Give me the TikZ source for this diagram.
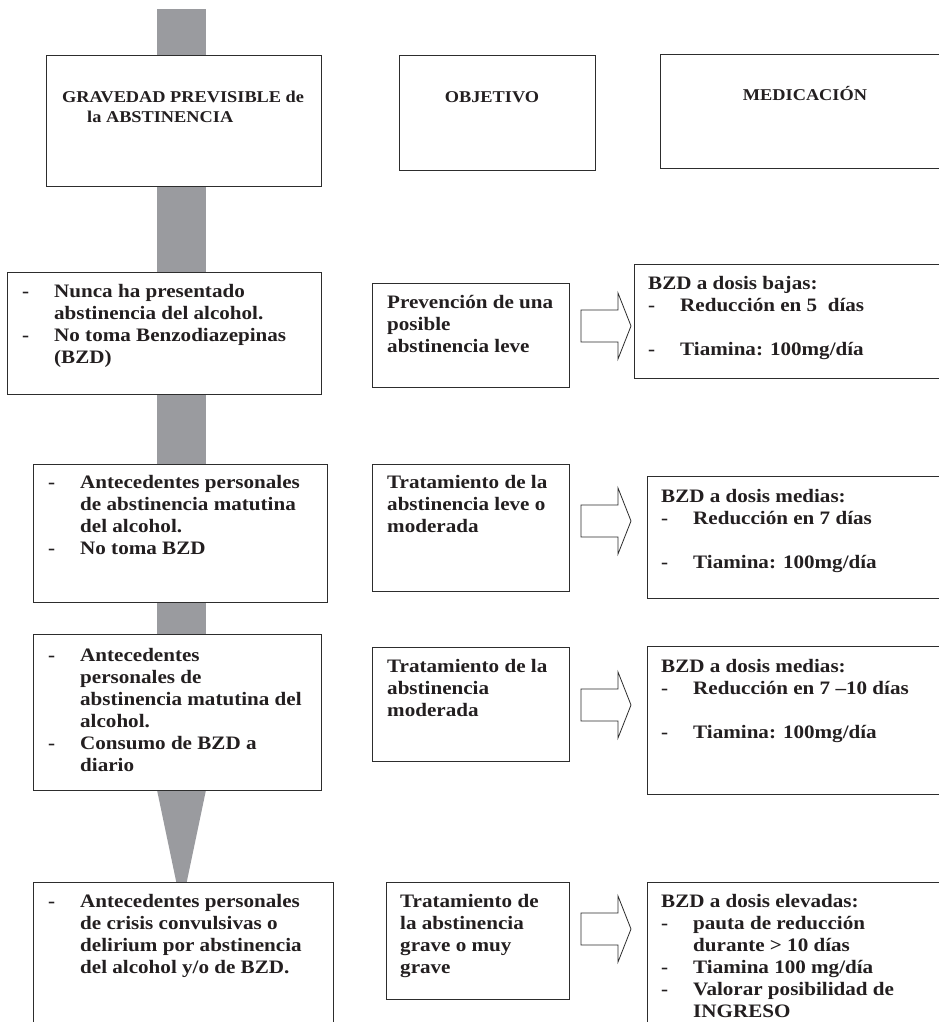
\documentclass[tikz,border=0pt]{standalone}
\usepackage{fontspec}
\setmainfont[FakeStretch=1.11]{Liberation Serif}

\definecolor{barra}{RGB}{154,155,159}
\definecolor{borde}{RGB}{45,45,45}
\definecolor{letra}{RGB}{35,31,32}

\newcommand{\guion}{\makebox[32pt][l]{-}}
\newcommand{\sangria}{\hspace*{32pt}}

\begin{document}
\begin{tikzpicture}[x=1pt, y=-1pt,
    caja/.style={draw=borde, fill=white, line width=0.8pt, anchor=north west, inner sep=0pt},
    texto/.style={anchor=base west, inner sep=0pt, text=letra, font=\fontsize{19}{22}\selectfont\bfseries},
    titulo/.style={inner sep=0pt, text=letra, font=\fontsize{16.5}{19.5}\selectfont\bfseries},
    flecha/.pic={\draw[draw=borde, fill=white, line width=0.8pt] (0,-16) -- (37,-16) -- (37,-33) -- (50,0) -- (37,33) -- (37,16) -- (0,16) -- cycle;}
]
\fill[white] (0,0) rectangle (939,1022);
\useasboundingbox (0,0) rectangle (939,1022);
\clip (0,0) rectangle (939,1022);

% barra de gravedad
\fill[barra] (157,9) rectangle (206,790);
\fill[barra] (157,790) -- (206,790) -- (181.5,907) -- cycle;

% cabecera
\node[caja, minimum width=275pt, minimum height=131pt] (gravedad) at (46,55) {};
\node[titulo, anchor=base west] (gravedadt) at (62,103) {\begin{tabular}[t]{@{}l@{}}GRAVEDAD PREVISIBLE de\\ \hspace*{25pt}la ABSTINENCIA\end{tabular}};
\node[caja, minimum width=196pt, minimum height=115pt] (objetivo) at (399,55) {};
\node[titulo, anchor=base] (objetivot) at (492,103) {OBJETIVO};
\node[caja, minimum width=300pt, minimum height=114pt] (medicacion) at (660,54) {};
\node[titulo, anchor=base] (medicaciont) at (805,101) {MEDICACIÓN};

% nivel 1
\node[caja, minimum width=314pt, minimum height=122pt] (caso1) at (7,272) {};
\node[texto] (caso1t) at (22,297) {\begin{tabular}[t]{@{}l@{}}\guion Nunca ha presentado\\ \sangria abstinencia del alcohol.\\ \guion No toma Benzodiazepinas\\ \sangria (BZD)\end{tabular}};
\node[caja, minimum width=197pt, minimum height=104pt] (obj1) at (372,283) {};
\node[texto] (obj1t) at (387,308) {\begin{tabular}[t]{@{}l@{}}Prevención de una\\ posible\\ abstinencia leve\end{tabular}};
\pic at (581,326) {flecha};
\node[caja, minimum width=320pt, minimum height=114pt] (med1) at (634,264) {};
\node[texto] (med1t) at (648,289) {\begin{tabular}[t]{@{}l@{}}BZD a dosis bajas:\\ \guion Reducción en 5\ \ días\\ \\ \guion Tiamina: 100mg/día\end{tabular}};

% nivel 2
\node[caja, minimum width=294pt, minimum height=138pt] (caso2) at (33,464) {};
\node[texto] (caso2t) at (48,488) {\begin{tabular}[t]{@{}l@{}}\guion Antecedentes personales\\ \sangria de abstinencia matutina\\ \sangria del alcohol.\\ \guion No toma BZD\end{tabular}};
\node[caja, minimum width=197pt, minimum height=127pt] (obj2) at (372,464) {};
\node[texto] (obj2t) at (387,488) {\begin{tabular}[t]{@{}l@{}}Tratamiento de la\\ abstinencia leve o\\ moderada\end{tabular}};
\pic at (581,521) {flecha};
\node[caja, minimum width=300pt, minimum height=122pt] (med2) at (647,476) {};
\node[texto] (med2t) at (661,502) {\begin{tabular}[t]{@{}l@{}}BZD a dosis medias:\\ \guion Reducción en 7 días\\ \\ \guion Tiamina: 100mg/día\end{tabular}};

% nivel 3
\node[caja, minimum width=288pt, minimum height=156pt] (caso3) at (33,634) {};
\node[texto] (caso3t) at (48,661) {\begin{tabular}[t]{@{}l@{}}\guion Antecedentes\\ \sangria personales de\\ \sangria abstinencia matutina del\\ \sangria alcohol.\\ \guion Consumo de BZD a\\ \sangria diario\end{tabular}};
\node[caja, minimum width=197pt, minimum height=114pt] (obj3) at (372,647) {};
\node[texto] (obj3t) at (387,672) {\begin{tabular}[t]{@{}l@{}}Tratamiento de la\\ abstinencia\\ moderada\end{tabular}};
\pic at (581,705) {flecha};
\node[caja, minimum width=300pt, minimum height=148pt] (med3) at (647,646) {};
\node[texto] (med3t) at (661,672) {\begin{tabular}[t]{@{}l@{}}BZD a dosis medias:\\ \guion Reducción en 7 –10 días\\ \\ \guion Tiamina: 100mg/día\end{tabular}};

% nivel 4
\node[caja, minimum width=300pt, minimum height=200pt] (caso4) at (33,882) {};
\node[texto] (caso4t) at (48,907) {\begin{tabular}[t]{@{}l@{}}\guion Antecedentes personales\\ \sangria de crisis convulsivas o\\ \sangria delirium por abstinencia\\ \sangria del alcohol y/o de BZD.\end{tabular}};
\node[caja, minimum width=183pt, minimum height=117pt] (obj4) at (386,882) {};
\node[texto] (obj4t) at (400,907) {\begin{tabular}[t]{@{}l@{}}Tratamiento de\\ la abstinencia\\ grave o muy\\ grave\end{tabular}};
\pic at (581,929) {flecha};
\node[caja, minimum width=300pt, minimum height=200pt] (med4) at (647,882) {};
\node[texto] (med4t) at (661,907) {\begin{tabular}[t]{@{}l@{}}BZD a dosis elevadas:\\ \guion pauta de reducción\\ \sangria durante > 10 días\\ \guion Tiamina 100 mg/día\\ \guion Valorar posibilidad de\\ \sangria INGRESO\end{tabular}};
\end{tikzpicture}
\end{document}
